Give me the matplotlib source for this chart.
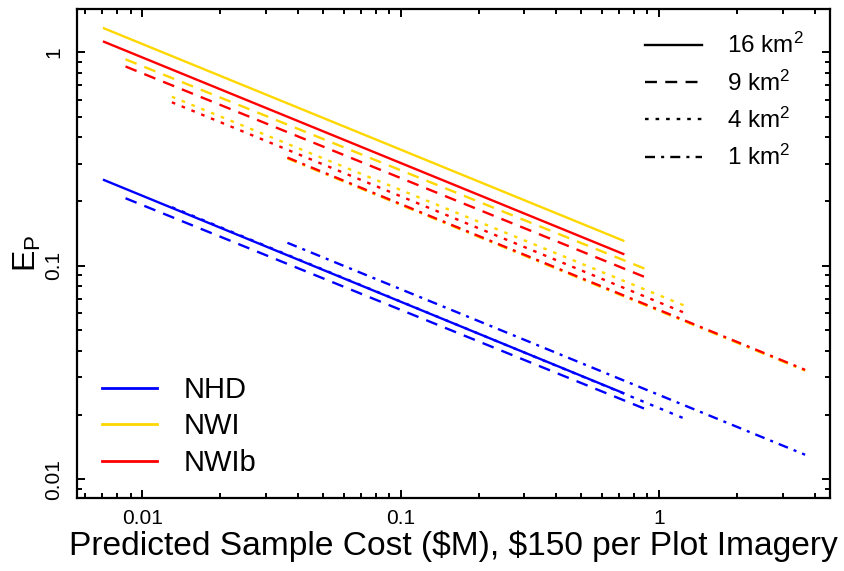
import matplotlib
matplotlib.use("Agg")
from matplotlib import pyplot as plt
from matplotlib.lines import Line2D
from matplotlib.ticker import FixedLocator, FuncFormatter, LogLocator, NullFormatter

# plot sizes (km^2) and the cost range each curve covers ($M)
areas = ['16', '9', '4', '1']
cost_start = [0.0071, 0.0086, 0.0130, 0.0364]
cost_end = [0.726, 0.883, 1.28, 3.67]

# E_P at the start / end of each curve, per map source
nhd_start = [0.252, 0.207, 0.188, 0.128]
nhd_end = [0.0253, 0.0213, 0.0190, 0.0130]
nwi_start = [1.295, 0.927, 0.619, 0.318]
nwi_end = [0.131, 0.0966, 0.0643, 0.0322]
nwib_start = [1.12, 0.858, 0.583, 0.321]
nwib_end = [0.1135, 0.0883, 0.0595, 0.0325]

sources = ['NHD', 'NWI', 'NWIb']
colors = ['#0000ff', '#ffd700', '#ff0000']
ep_start = [nhd_start, nwi_start, nwib_start]
ep_end = [nhd_end, nwi_end, nwib_end]

plt.rcParams['font.family'] = ['Liberation Sans', 'DejaVu Sans']
plt.rcParams['mathtext.fontset'] = 'custom'
plt.rcParams['mathtext.rm'] = 'Liberation Sans'
plt.rcParams['mathtext.it'] = 'Liberation Sans'
plt.rcParams['lines.scale_dashes'] = False

styles = ['-', (0, (8.6, 6.0)), (0, (2.6, 5.0)), (0, (7.2, 4.4, 2.2, 4.4))]

fig = plt.figure(figsize=(8.44, 5.71), dpi=100)
ax = fig.add_axes([0.0912, 0.1278, 0.8922, 0.8559])

for src, col, s0, s1 in zip(sources, colors, ep_start, ep_end):
    for i in range(len(areas)):
        ax.plot([cost_start[i], cost_end[i]], [s0[i], s1[i]],
                color=col, linestyle=styles[i], linewidth=1.7)

ax.set_xscale('log')
ax.set_yscale('log')
ax.set_xlim(0.00558, 4.58)
ax.set_ylim(0.00815, 1.59)

fmt = FuncFormatter(lambda v, p: '%g' % v)
for axis in (ax.xaxis, ax.yaxis):
    axis.set_major_locator(FixedLocator([0.01, 0.1, 1]))
    axis.set_major_formatter(fmt)
    axis.set_minor_locator(LogLocator(base=10, subs=range(2, 10), numticks=20))
    axis.set_minor_formatter(NullFormatter())

ax.tick_params(which='both', direction='in', top=True, right=True, width=1.4)
ax.tick_params(which='major', length=6)
ax.tick_params(which='minor', length=3.5)
ax.tick_params(axis='x', labelsize=15, pad=8)
ax.tick_params(axis='y', labelsize=15, pad=10, labelrotation=90)
for lab in ax.get_yticklabels():
    lab.set_va('center')
for sp in ax.spines.values():
    sp.set_linewidth(1.6)

ax.set_xlabel(r'Predicted Sample Cost (\$M), \$150 per Plot Imagery', fontsize=24.1, labelpad=2)
ax.set_ylabel(r'E$_\mathrm{P}$', fontsize=23, labelpad=1)

src_handles = [Line2D([], [], color=c, linewidth=2) for c in colors]
leg1 = ax.legend(src_handles, sources, loc='upper left', frameon=False,
                 bbox_to_anchor=(102 / 844, 1 - 376 / 571), bbox_transform=fig.transFigure,
                 fontsize=21, handlelength=1.9, handletextpad=0.9,
                 labelspacing=0.29, borderpad=0, borderaxespad=0)
ax.add_artist(leg1)

area_handles = [Line2D([], [], color='black', linestyle=st, linewidth=1.7) for st in styles]
area_labels = [a + r' km$^2$' for a in areas]
ax.legend(area_handles, area_labels, loc='upper left', frameon=False,
          bbox_to_anchor=(645 / 844, 1 - 33 / 571), bbox_transform=fig.transFigure,
          fontsize=17.5, handlelength=2.33, handletextpad=1.05,
          labelspacing=0.5, borderpad=0, borderaxespad=0)

fig.savefig('out.png', dpi=100)
